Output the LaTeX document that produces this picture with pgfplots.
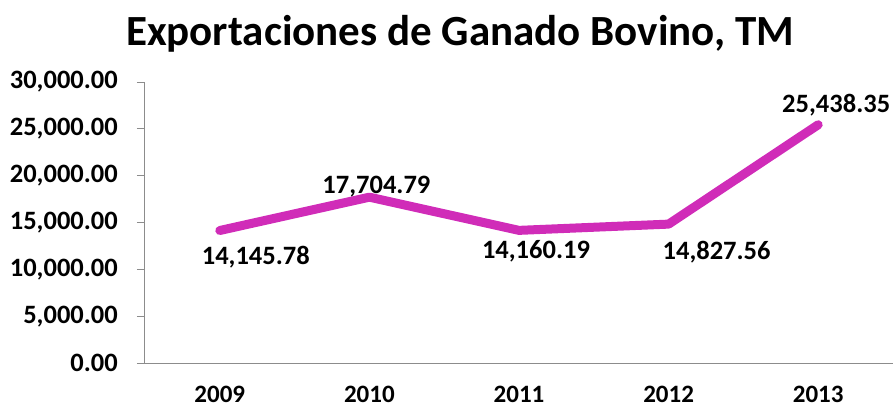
\documentclass[border=0pt]{standalone}
\usepackage{fontspec}
\setmainfont{Carlito}
\usepackage{pgfplots}
\pgfplotsset{compat=1.18}
\definecolor{linemag}{HTML}{D02CB8}
\definecolor{axgray}{HTML}{8C8C8C}

\pgfplotstableread{
x y dx dy label
0 14145.78 36 -27 14,145.78
1 17704.79 7 11 17,704.79
2 14160.19 17 -21 14,160.19
3 14827.56 48 -28 14,827.56
4 25438.35 18 20 25,438.35
}\exports

\begin{document}
\begin{tikzpicture}
% fixes the page to the reference's 894x410 frame
\path (-145pt,-47pt) rectangle (749pt,363pt);
\begin{axis}[
    at={(74.8pt,0pt)}, anchor=origin,
    scale only axis, width=748pt, height=281pt,
    xmin=-0.5, xmax=4.5, ymin=0, ymax=30000,
    axis lines*=left,
    axis line style={axgray, line width=1pt},
    xtick={0,1,2,3,4},
    xticklabels={2009,2010,2011,2012,2013},
    x tick style={draw=none},
    ytick distance=5000,
    scaled y ticks=false,
    y tick style={axgray, line width=1pt},
    tick align=outside, major tick length=8pt,
    /pgf/number format/assume math mode=true,
    yticklabel={\pgfmathprintnumber[fixed, fixed zerofill, precision=2, 1000 sep={,}]{\tick}},
    tick label style={text=black},
    y tick label style={font=\fontsize{26.5}{30}\selectfont\bfseries,
        anchor=east, inner sep=0pt, xshift=-19pt},
    x tick label style={font=\fontsize{25}{30}\selectfont\bfseries,
        anchor=north, inner sep=0pt, yshift=-15pt},
    title={Exportaciones de Ganado Bovino, TM},
    title style={font=\fontsize{43}{48}\selectfont\bfseries,
        at={(axis description cs:0.421,1.110)}, anchor=base, inner sep=0pt},
    clip=false,
]
\addplot[linemag, line width=9pt, line cap=round, line join=round,
    nodes near coords,
    point meta=explicit symbolic,
    visualization depends on={\thisrow{dx} \as \labdx},
    visualization depends on={\thisrow{dy} \as \labdy},
    nodes near coords style={anchor=center, inner sep=0pt, text=black,
        font=\fontsize{26.5}{30}\selectfont\bfseries,
        xshift=\labdx pt, yshift=\labdy pt},
] table[x=x, y=y, meta=label] {\exports};
\end{axis}
\end{tikzpicture}
\end{document}
